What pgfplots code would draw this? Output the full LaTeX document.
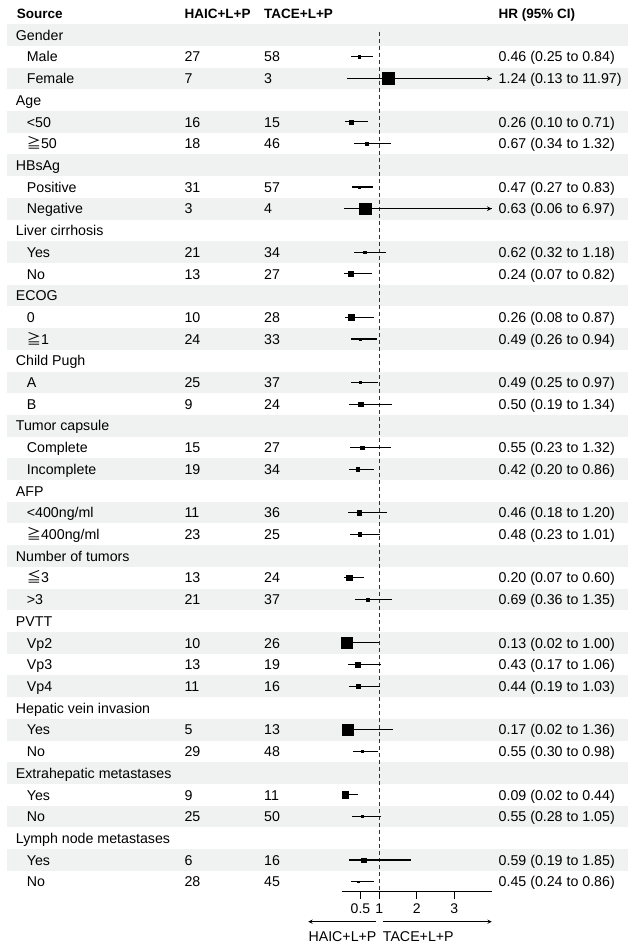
\documentclass[border=0pt]{standalone}
\usepackage{fontspec}
\setmainfont{Liberation Sans}
\newfontfamily\cjk{Noto Sans CJK SC}
\usepackage{pgfplots}
\pgfplotsset{compat=1.18}
\usepackage{pgfplotstable}
\definecolor{band}{RGB}{240,242,242}

% row, HR, lower, upper, marker side (px)
\pgfplotstableread{
row hr   lo   hi    s
2   0.46 0.25 0.84  2.5
3   1.24 0.13 11.97 12
5   0.26 0.10 0.71  4.5
6   0.67 0.34 1.32  3
8   0.47 0.27 0.83  2
9   0.63 0.06 6.97  12
11  0.62 0.32 1.18  3
12  0.24 0.07 0.82  5
14  0.26 0.08 0.87  6.5
15  0.49 0.26 0.94  2.7
17  0.49 0.25 0.97  2.7
18  0.50 0.19 1.34  5
20  0.55 0.23 1.32  4
21  0.42 0.20 0.86  3.7
23  0.46 0.18 1.20  4.7
24  0.48 0.23 1.01  4
26  0.20 0.07 0.60  6
27  0.69 0.36 1.35  3
29  0.13 0.02 1.00  11
30  0.43 0.17 1.06  5
31  0.44 0.19 1.03  3.7
33  0.17 0.02 1.36  11.3
34  0.55 0.30 0.98  2.3
36  0.09 0.02 0.44  7
37  0.55 0.28 1.05  2.5
39  0.59 0.19 1.85  4.7
40  0.45 0.24 0.86  2.3
}\hrdata

\newcommand{\cat}[2]{\node[txt] at (axis cs:-8.693,-#1) {#2};}
\newcommand{\sub}[5]{%
  \node[txt] at (axis cs:-8.4,-#1) {#2};
  \node[txt] at (axis cs:-4.197,-#1) {#3};
  \node[txt] at (axis cs:-2.072,-#1) {#4};
  \node[txt] at (axis cs:4.181,-#1) {#5};}

\begin{document}
\begin{tikzpicture}[
  txt/.style={anchor=base west, inner sep=0pt, yshift=-5.2pt, font=\fontsize{14.2}{16}\selectfont},
  hdr/.style={anchor=base west, inner sep=0pt, yshift=-5pt, font=\fontsize{13.5}{16}\selectfont\bfseries}]
\begin{axis}[
  x=37.5pt, y=21.71pt,
  xmin=0, xmax=4, ymin=-40.43, ymax=0,
  clip=false,
  axis y line=none,
  axis x line*=bottom,
  xtick={0.5,1,2,3},
  xticklabels={0.5,1,2,3},
  tick align=outside,
  major tick length=8pt,
  x axis line style={line width=0.9pt},
  xtick style={line width=0.9pt, black},
  xticklabel style={font=\fontsize{14}{16}\selectfont, inner sep=2pt, yshift=-2.5pt},
  /pgf/number format/assume math mode=true,
]
% picture frame
\path (axis cs:-9.112,0.612) rectangle (axis cs:7.768,-42.96);
% shaded rows
\pgfplotsinvokeforeach{1,3,...,39}{
  \fill[band] (axis cs:-8.925,-#1+0.5) rectangle (axis cs:7.635,-#1-0.5);
}
% line of no effect
\addplot[black!80, line width=0.9pt, dash pattern=on 4pt off 3pt] coordinates {(1,-0.85) (1,-40.43)};
% confidence intervals
\addplot[draw=none, mark=none,
  error bars/.cd, x dir=both, x explicit, error mark=none,
  error bar style={draw=black, line width=1.1pt}]
  table[x=hr, y expr=-\thisrow{row},
        x error plus expr={min(\thisrow{hi},4)-\thisrow{hr}},
        x error minus expr={\thisrow{hr}-\thisrow{lo}}] \hrdata;
% point estimates
\addplot[scatter, only marks, mark=square*,
  scatter/use mapped color={draw=black, fill=black},
  visualization depends on={\thisrow{s} \as \msz},
  scatter/@pre marker code/.append style={/tikz/mark size=\msz/2-0.2}]
  table[x=hr, y expr=-\thisrow{row}] \hrdata;
% intervals running past the axis
\addplot[black, line width=1.1pt, -stealth] coordinates {(0.13,-3) (4,-3)};
\addplot[black, line width=1.1pt, -stealth] coordinates {(0.06,-9) (4,-9)};
% direction arrows
\draw[black, line width=0.9pt, -stealth] (axis cs:0.915,-41.84) -- (axis cs:-0.89,-41.84);
\draw[black, line width=0.9pt, -stealth] (axis cs:1.093,-41.84) -- (axis cs:4.0,-41.84);
\node[txt] at (axis cs:-0.89,-42.53) {HAIC+L+P};
\node[txt] at (axis cs:1.093,-42.53) {TACE+L+P};
% header
\node[hdr] at (axis cs:-8.667,0) {Source};
\node[hdr] at (axis cs:-4.197,0) {HAIC+L+P};
\node[hdr] at (axis cs:-2.072,0) {TACE+L+P};
\node[hdr] at (axis cs:4.181,0) {HR (95\% CI)};
% table text
\cat{1}{Gender}
\sub{2}{Male}{27}{58}{0.46 (0.25 to 0.84)}
\sub{3}{Female}{7}{3}{1.24 (0.13 to 11.97)}
\cat{4}{Age}
\sub{5}{<50}{16}{15}{0.26 (0.10 to 0.71)}
\sub{6}{{\cjk ≧}50}{18}{46}{0.67 (0.34 to 1.32)}
\cat{7}{HBsAg}
\sub{8}{Positive}{31}{57}{0.47 (0.27 to 0.83)}
\sub{9}{Negative}{3}{4}{0.63 (0.06 to 6.97)}
\cat{10}{Liver cirrhosis}
\sub{11}{Yes}{21}{34}{0.62 (0.32 to 1.18)}
\sub{12}{No}{13}{27}{0.24 (0.07 to 0.82)}
\cat{13}{ECOG}
\sub{14}{0}{10}{28}{0.26 (0.08 to 0.87)}
\sub{15}{{\cjk ≧}1}{24}{33}{0.49 (0.26 to 0.94)}
\cat{16}{Child Pugh}
\sub{17}{A}{25}{37}{0.49 (0.25 to 0.97)}
\sub{18}{B}{9}{24}{0.50 (0.19 to 1.34)}
\cat{19}{Tumor capsule}
\sub{20}{Complete}{15}{27}{0.55 (0.23 to 1.32)}
\sub{21}{Incomplete}{19}{34}{0.42 (0.20 to 0.86)}
\cat{22}{AFP}
\sub{23}{<400ng/ml}{11}{36}{0.46 (0.18 to 1.20)}
\sub{24}{{\cjk ≧}400ng/ml}{23}{25}{0.48 (0.23 to 1.01)}
\cat{25}{Number of tumors}
\sub{26}{{\cjk ≦}3}{13}{24}{0.20 (0.07 to 0.60)}
\sub{27}{>3}{21}{37}{0.69 (0.36 to 1.35)}
\cat{28}{PVTT}
\sub{29}{Vp2}{10}{26}{0.13 (0.02 to 1.00)}
\sub{30}{Vp3}{13}{19}{0.43 (0.17 to 1.06)}
\sub{31}{Vp4}{11}{16}{0.44 (0.19 to 1.03)}
\cat{32}{Hepatic vein invasion}
\sub{33}{Yes}{5}{13}{0.17 (0.02 to 1.36)}
\sub{34}{No}{29}{48}{0.55 (0.30 to 0.98)}
\cat{35}{Extrahepatic metastases}
\sub{36}{Yes}{9}{11}{0.09 (0.02 to 0.44)}
\sub{37}{No}{25}{50}{0.55 (0.28 to 1.05)}
\cat{38}{Lymph node metastases}
\sub{39}{Yes}{6}{16}{0.59 (0.19 to 1.85)}
\sub{40}{No}{28}{45}{0.45 (0.24 to 0.86)}
\end{axis}
\end{tikzpicture}
\end{document}
